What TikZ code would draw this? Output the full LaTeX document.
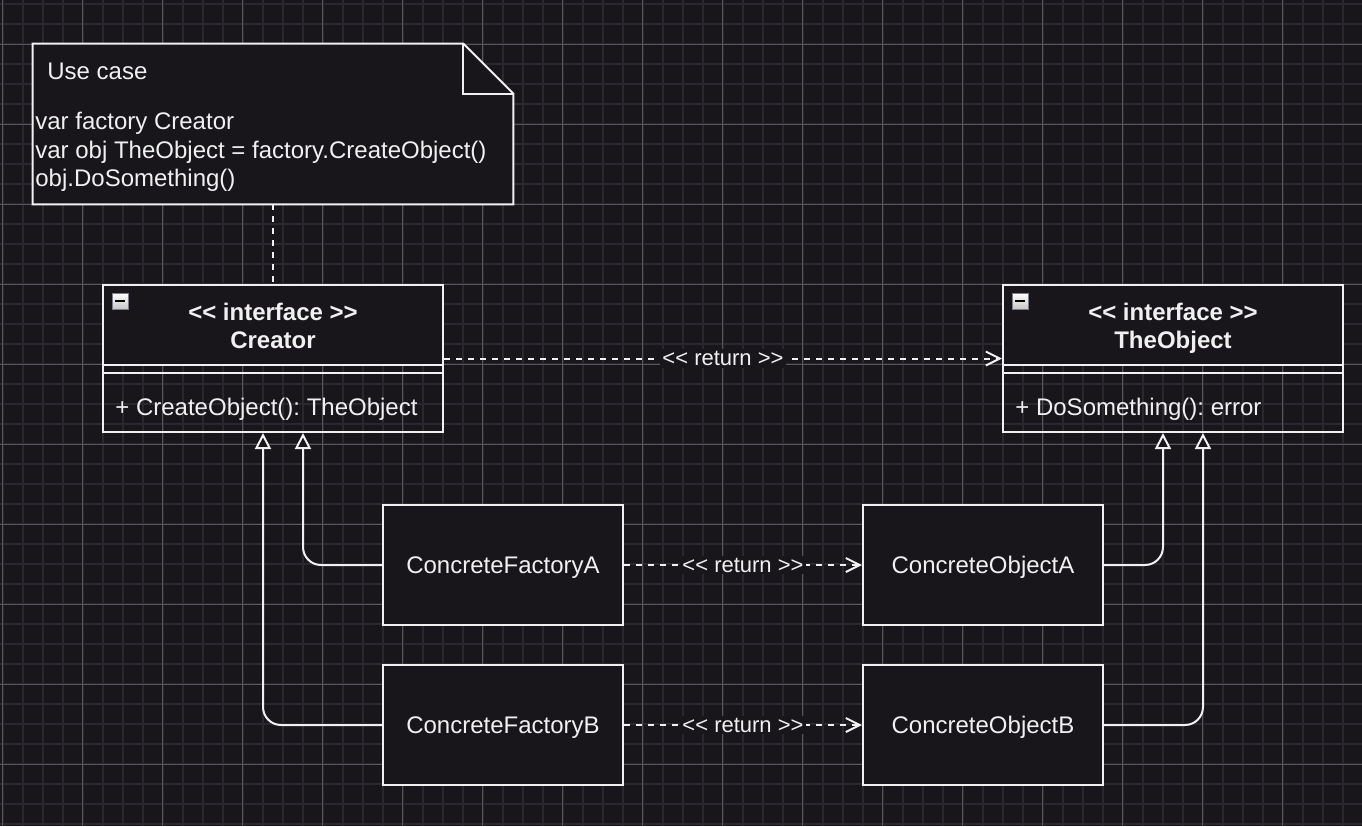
\documentclass[tikz,border=0pt]{standalone}
\usepackage{fontspec}
\setmainfont{Liberation Sans}
\usetikzlibrary{arrows.meta}
\frenchspacing

\definecolor{canvas}{RGB}{24,22,27}
\definecolor{gridminor}{RGB}{42,40,46}
\definecolor{gridmajor}{RGB}{86,85,90}
\definecolor{ink}{RGB}{240,240,240}
\definecolor{iconrim}{RGB}{125,125,135}

\tikzset{
  outline/.style={draw=ink, line width=1pt},
  classbox/.style={outline, minimum width=170pt, minimum height=73.5pt, inner sep=0pt,
    path picture={
      \fill[canvas] (path picture bounding box.north west) rectangle ([yshift=-40pt]path picture bounding box.north east);
      \draw[ink, line width=1pt] ([yshift=-40pt]path picture bounding box.north west) -- ([yshift=-40pt]path picture bounding box.north east)
        ([yshift=-44pt]path picture bounding box.north west) -- ([yshift=-44pt]path picture bounding box.north east);
      \shade[top color=white, bottom color=black!22, draw=iconrim, line width=0.5pt]
        ([xshift=4.5pt,yshift=-4pt]path picture bounding box.north west) rectangle +(8pt,-8pt);
      \draw[black, line width=1.2pt] ([xshift=6pt,yshift=-8pt]path picture bounding box.north west) -- +(5pt,0);
    }},
  classtitle/.style={text=ink, align=center, text depth=0pt, font=\bfseries\fontsize{12}{14}\selectfont},
  codetext/.style={text=ink, inner sep=0pt, font=\fontsize{12}{14.2}\selectfont},
  plainbox/.style={outline, fill=canvas, minimum width=120pt, minimum height=60pt, text=ink,
    text depth=0pt, font=\fontsize{12}{14.4}\selectfont},
  depends/.style={draw=ink, line width=1pt, dash pattern=on 3pt off 3pt,
    -{Straight Barb[length=7pt,width=7pt]}},
  inherits/.style={draw=ink, line width=1pt, rounded corners=9pt,
    -{Triangle[open,length=8pt,width=8pt,fill=canvas]}},
  retlabel/.style={fill=canvas, text=ink, inner sep=1pt, font=\fontsize{11}{13}\selectfont},
}

\begin{document}
\begin{tikzpicture}[x=0.5pt, y=-0.5pt]
\fill[canvas] (0,0) rectangle (1362,826);
\useasboundingbox (0,0) rectangle (1362,826);

% grid
\foreach \gx in {2.7,22.7,...,1362} \draw[gridminor, line width=1pt] (\gx,0) -- (\gx,826);
\foreach \gy in {4,24,...,826} \draw[gridminor, line width=1pt] (0,\gy) -- (1362,\gy);
\foreach \gx in {2.7,82.7,...,1362} \draw[gridmajor, line width=0.5pt] (\gx,0) -- (\gx,826);
\foreach \gy in {44,124,...,826} \draw[gridmajor, line width=0.5pt] (0,\gy) -- (1362,\gy);

% note
\node[minimum width=240pt, minimum height=80pt, inner sep=0pt] (usecase) at (273,124) {};
\draw[outline, fill=canvas] (usecase.south west) |- ([xshift=-25pt]usecase.north east)
  -- ([yshift=-25pt]usecase.north east) -- (usecase.south east) -- cycle;
\draw[outline] ([xshift=-25pt]usecase.north east) |- ([yshift=-25pt]usecase.north east);
\node[codetext, anchor=base west] (usecasetitle) at (47,79) {Use case};
\node[codetext, anchor=north west, align=left] (usecasecode) at (35,112) {var factory Creator\\var obj TheObject = factory.CreateObject()\\obj.DoSomething()};

% interfaces
\node[classbox] (creator) at (273,358.5) {};
\node[classtitle] (creatortitle) at (273,325.3) {<{}< interface >{}>\\Creator};
\node[codetext, anchor=base west] (creatorops) at (115,415) {+ CreateObject(): TheObject};

\node[classbox] (theobject) at (1173,358.5) {};
\node[classtitle] (theobjecttitle) at (1173,325.3) {<{}< interface >{}>\\TheObject};
\node[codetext, anchor=base west] (theobjectops) at (1015,415) {+ DoSomething(): error};

% concrete types
\node[plainbox] (factorya) at (503,565) {ConcreteFactoryA};
\node[plainbox] (factoryb) at (503,725) {ConcreteFactoryB};
\node[plainbox] (objecta) at (983,565) {ConcreteObjectA};
\node[plainbox] (objectb) at (983,725) {ConcreteObjectB};

% connectors
\draw[outline, dash pattern=on 3pt off 3pt] (usecase.south) -- (creator.north);
\draw[depends] (creator.east) -- node[retlabel] (retmain) {<{}< return >{}>} (theobject.west);
\draw[depends] (factorya.east) -- node[retlabel] (reta) {<{}< return >{}>} (objecta.west);
\draw[depends] (factoryb.east) -- node[retlabel] (retb) {<{}< return >{}>} (objectb.west);

\draw[inherits] (factorya.west) -| ([xshift=15pt]creator.south);
\draw[inherits] (factoryb.west) -| ([xshift=-5pt]creator.south);
\draw[inherits] (objecta.east) -| ([xshift=-5pt]theobject.south);
\draw[inherits] (objectb.east) -| ([xshift=15pt]theobject.south);
\end{tikzpicture}
\end{document}
